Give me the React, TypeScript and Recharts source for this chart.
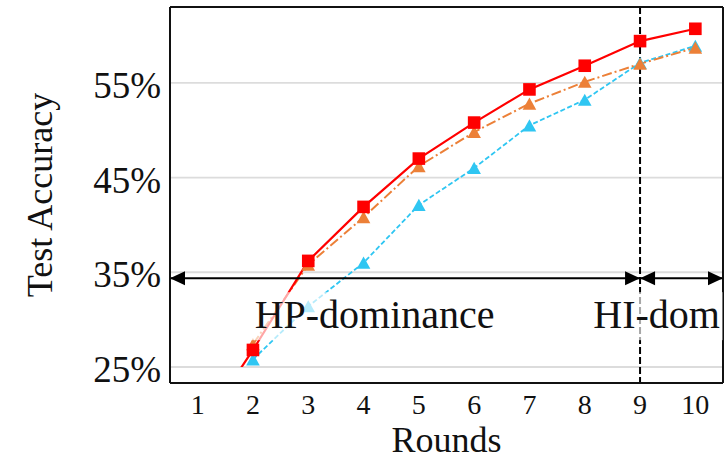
import React from 'react';
import { LineChart, Line, XAxis, YAxis, CartesianGrid, ReferenceLine, ReferenceDot } from 'recharts';

const rounds = [1, 2, 3, 4, 5, 6, 7, 8, 9, 10];
const redAcc = [18.0, 26.8, 36.2, 41.9, 47.0, 50.8, 54.3, 56.8, 59.4, 60.7];
const orangeAcc = [null, 27.4, 35.8, 40.8, 46.2, 49.8, 52.8, 55.1, 57.0, 58.7];
const cyanAcc = [null, 25.8, 31.4, 36.0, 42.1, 46.0, 50.5, 53.2, 57.1, 58.9];
const yTicks = [25, 35, 45, 55];
const splitRound = 9;
const arrowLevel = 34.37;

const data = rounds.map((r, i) => ({ round: r, red: redAcc[i], orange: orangeAcc[i], cyan: cyanAcc[i] }));

const FONT = '"Liberation Serif", "Times New Roman", serif';
const RED = '#ff0000';
const ORANGE = '#ec8038';
const CYAN = '#2fc6f2';

const X_MIN = 0.5;
const X_MAX = 10.5;
const Y_TOP = 63;
const Y_FRAME_BOTTOM = 23.3;

const squareDot = (props: any) => {
  const { cx, cy, index } = props;
  if (cx == null || cy == null || props.value == null) return <g key={`s-${index}`} />;
  return <rect key={`s-${index}`} x={cx - 6.3} y={cy - 6.3} width={12.6} height={12.6} fill={RED} />;
};

const triDot = (color: string) => (props: any) => {
  const { cx, cy, index } = props;
  if (cx == null || cy == null || props.value == null) return <g key={`t-${index}`} />;
  return (
    <polygon
      key={`t-${index}`}
      points={`${cx},${cy - 6.2} ${cx - 6.8},${cy + 6} ${cx + 6.8},${cy + 6}`}
      fill={color}
    />
  );
};

const XTick = (props: any) => {
  const { x, payload } = props;
  return (
    <text x={x} y={414} textAnchor="middle" fontFamily={FONT} fontSize={28} fill="#111">
      {payload.value}
    </text>
  );
};

const YTick = (props: any) => {
  const { y, payload } = props;
  return (
    <text x={161} y={y + 15} textAnchor="end" fontFamily={FONT} fontSize={37} fill="#111">
      {`${payload.value}%`}
    </text>
  );
};

const arrowHead = (dir: 'left' | 'right') => (props: any) => {
  const { cx, cy } = props;
  const b = dir === 'left' ? cx + 15 : cx - 15;
  return <polygon points={`${cx},${cy} ${b},${cy - 7} ${b},${cy + 7}`} fill="#000" />;
};

const textBox = (label: string, halfW: number) => (props: any) => {
  const { cx, cy } = props;
  return (
    <g>
      <rect x={cx - halfW} y={cy - 36} width={halfW * 2} height={48} fill="#fff" fillOpacity={0.65} />
      <text x={cx} y={cy} textAnchor="middle" fontFamily={FONT} fontSize={40} fill="#111">
        {label}
      </text>
    </g>
  );
};

export default function App() {
  return (
    <div style={{ position: 'absolute', left: 0, top: 0 }}>
      <LineChart width={728} height={460} data={data} margin={{ top: 7, right: 5, bottom: 0, left: 0 }}>
        <CartesianGrid horizontal vertical={false} stroke="#dcdcdc" strokeWidth={1.8} />
        <XAxis
          dataKey="round"
          type="number"
          domain={[X_MIN, X_MAX]}
          ticks={rounds}
          axisLine={false}
          tickLine={false}
          height={93}
          tick={<XTick />}
          label={{
            content: () => (
              <text x={446.5} y={452} textAnchor="middle" fontFamily={FONT} fontSize={36} fill="#111">
                Rounds
              </text>
            ),
          }}
        />
        <YAxis
          type="number"
          domain={[25, Y_TOP]}
          allowDataOverflow
          ticks={yTicks}
          axisLine={false}
          tickLine={false}
          width={170}
          tick={<YTick />}
          label={{
            content: () => (
              <text
                x={52}
                y={195}
                transform="rotate(-90, 52, 195)"
                textAnchor="middle"
                fontFamily={FONT}
                fontSize={36}
                fill="#111"
              >
                Test Accuracy
              </text>
            ),
          }}
        />
        <Line
          dataKey="cyan"
          stroke={CYAN}
          strokeWidth={1.8}
          strokeDasharray="5 2.5"
          dot={triDot(CYAN)}
          isAnimationActive={false}
        />
        <Line
          dataKey="orange"
          stroke={ORANGE}
          strokeWidth={2}
          strokeDasharray="10 3 2 3"
          dot={triDot(ORANGE)}
          isAnimationActive={false}
        />
        <Line dataKey="red" stroke={RED} strokeWidth={2.2} dot={squareDot} isAnimationActive={false} />

        <ReferenceLine
          segment={[{ x: splitRound, y: Y_TOP }, { x: splitRound, y: Y_FRAME_BOTTOM }]}
          stroke="#000"
          strokeWidth={2}
          strokeDasharray="7 3"
          ifOverflow="visible"
        />
        <ReferenceLine
          segment={[{ x: X_MIN, y: arrowLevel }, { x: splitRound, y: arrowLevel }]}
          stroke="#000"
          strokeWidth={2}
          ifOverflow="visible"
        />
        <ReferenceLine
          segment={[{ x: splitRound, y: arrowLevel }, { x: X_MAX, y: arrowLevel }]}
          stroke="#000"
          strokeWidth={2}
          ifOverflow="visible"
        />
        <ReferenceDot x={X_MIN} y={arrowLevel} ifOverflow="visible" shape={arrowHead('left')} />
        <ReferenceDot x={splitRound} y={arrowLevel} ifOverflow="visible" shape={arrowHead('right')} />
        <ReferenceDot x={splitRound} y={arrowLevel} ifOverflow="visible" shape={arrowHead('left')} />
        <ReferenceDot x={X_MAX} y={arrowLevel} ifOverflow="visible" shape={arrowHead('right')} />

        <ReferenceDot x={4.2} y={29.1} ifOverflow="visible" shape={textBox('HP-dominance', 125)} />
        <ReferenceDot x={9.3} y={29.1} ifOverflow="visible" shape={textBox('HI-dom', 66)} />

        <ReferenceLine y={Y_TOP} stroke="#111" strokeWidth={2} ifOverflow="visible" />
        <ReferenceLine y={Y_FRAME_BOTTOM} stroke="#111" strokeWidth={2} ifOverflow="visible" />
        <ReferenceLine
          segment={[{ x: X_MIN, y: Y_TOP }, { x: X_MIN, y: Y_FRAME_BOTTOM }]}
          stroke="#111"
          strokeWidth={2}
          ifOverflow="visible"
        />
        <ReferenceLine
          segment={[{ x: X_MAX, y: Y_TOP }, { x: X_MAX, y: Y_FRAME_BOTTOM }]}
          stroke="#111"
          strokeWidth={2}
          ifOverflow="visible"
        />
      </LineChart>
    </div>
  );
}
